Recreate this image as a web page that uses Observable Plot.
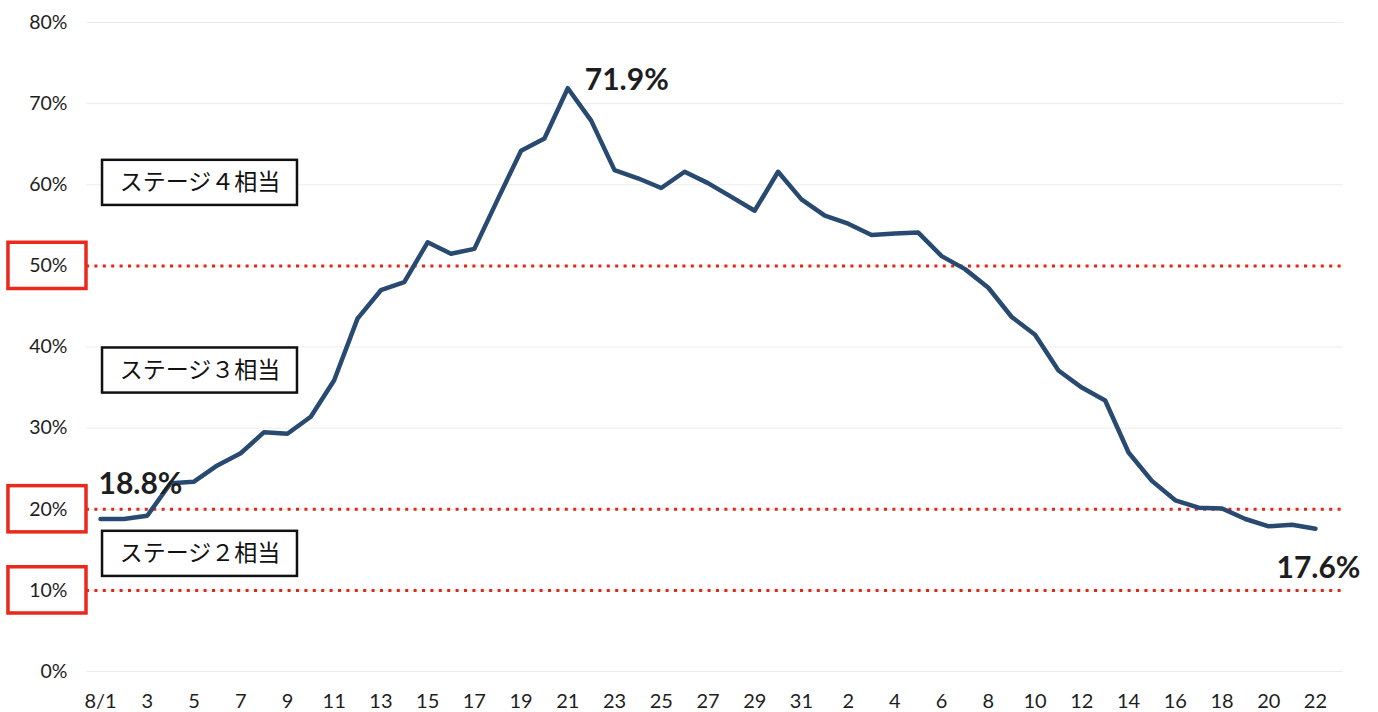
<!DOCTYPE html>
<html><head><meta charset="utf-8">
<script src="https://cdn.jsdelivr.net/npm/d3@7"></script>
<script src="https://cdn.jsdelivr.net/npm/@observablehq/plot@0.6"></script>
<style>body{margin:0;background:#fff} svg{display:block}</style>
</head><body><div id="chart"></div>
<script>
const dates = ["8/1","8/2","8/3","8/4","8/5","8/6","8/7","8/8","8/9","8/10","8/11","8/12","8/13","8/14","8/15","8/16","8/17","8/18","8/19","8/20","8/21","8/22","8/23","8/24","8/25","8/26","8/27","8/28","8/29","8/30","8/31",
"9/1","9/2","9/3","9/4","9/5","9/6","9/7","9/8","9/9","9/10","9/11","9/12","9/13","9/14","9/15","9/16","9/17","9/18","9/19","9/20","9/21","9/22"];
const values = [18.8,18.8,19.2,23.2,23.4,25.4,26.9,29.5,29.3,31.4,35.9,43.5,47.0,48.0,52.9,51.5,52.1,58.2,64.2,65.7,71.9,67.9,61.8,60.8,59.6,61.6,60.2,58.5,56.8,61.6,58.2,
56.2,55.2,53.8,54.0,54.1,51.2,49.6,47.3,43.7,41.5,37.1,35.0,33.4,27.0,23.5,21.1,20.2,20.1,18.8,17.9,18.1,17.6];
const yTicks = [0,10,20,30,40,50,60,70,80];
const xTickLabels = ["8/1","3","5","7","9","11","13","15","17","19","21","23","25","27","29","31","2","4","6","8","10","12","14","16","18","20","22"];
const thresholds = [10,20,50];
const stageLabels = ["ステージ４相当","ステージ３相当","ステージ２相当"];
const annotated = ["8/1","8/21","9/22"];

const data = dates.map((d,i)=>({i, date:d, v:values[i]}));
const tickIdx = xTickLabels.map((_,k)=>k*2);
const ann = annotated.map(d => data.find(r => r.date === d));

// stage box placement (data units)
const stageY = [60.23, 37.1, 14.5];
const stageHalf = 2.78;
const stages = stageLabels.map((t,k)=>({t, y:stageY[k]}));

const plot = Plot.plot({
  width:1378, height:712,
  marginLeft:86, marginRight:35, marginTop:22, marginBottom:41,
  style:{fontFamily:"Lato, 'Noto Sans', sans-serif", background:"#fff", color:"#222"},
  x:{domain:[-0.6,53.2], label:null},
  y:{domain:[0,80], label:null},
  marks:[
    Plot.gridY(yTicks, {stroke:"#ececec", strokeOpacity:1}),
    Plot.ruleY(thresholds, {stroke:"#e0281a", strokeWidth:3, strokeDasharray:"3,5.4"}),
    Plot.rect(thresholds, {x1:()=>-3.94, x2:()=>-0.6, y1:d=>d-2.85, y2:d=>d+2.85, stroke:"#e8291c", strokeWidth:3.5, fill:"none"}),
    Plot.axisY(yTicks, {tickSize:0, tickPadding:19, tickFormat:d=>d+"%", fontSize:19.5, color:"#1e1e1e", label:null}),
    Plot.axisX(tickIdx, {tickSize:0, tickPadding:22, tickFormat:i=>xTickLabels[i/2], fontSize:20, color:"#1e1e1e", label:null}),
    Plot.rect(stages, {x1:()=>0.086, x2:()=>8.43, y1:d=>d.y-stageHalf, y2:d=>d.y+stageHalf, stroke:"#111", strokeWidth:2.5, fill:"#fff"}),
    Plot.text(stages, {x:()=>4.26, y:"y", text:"t", fontSize:23, fontFamily:"'Noto Sans CJK JP', sans-serif", fill:"#111"}),
    Plot.line(data, {x:"i", y:"v", stroke:"#284a70", strokeWidth:4.5, strokeLinejoin:"round", strokeLinecap:"round"}),
    Plot.text([ann[0]], {x:"i", y:"v", text:d=>d.v.toFixed(1)+"%", textAnchor:"start", dx:-2, dy:-35, fontSize:30, fontWeight:"bold", fill:"#1e1e1e"}),
    Plot.text([ann[1]], {x:"i", y:"v", text:d=>d.v.toFixed(1)+"%", textAnchor:"start", dx:17, dy:-8, fontSize:30, fontWeight:"bold", fill:"#1e1e1e"}),
    Plot.text([ann[2]], {x:"i", y:"v", text:d=>d.v.toFixed(1)+"%", textAnchor:"middle", dx:3, dy:40, fontSize:30, fontWeight:"bold", fill:"#1e1e1e"})
  ]
});
document.getElementById("chart").appendChild(plot);
</script>
</body></html>
